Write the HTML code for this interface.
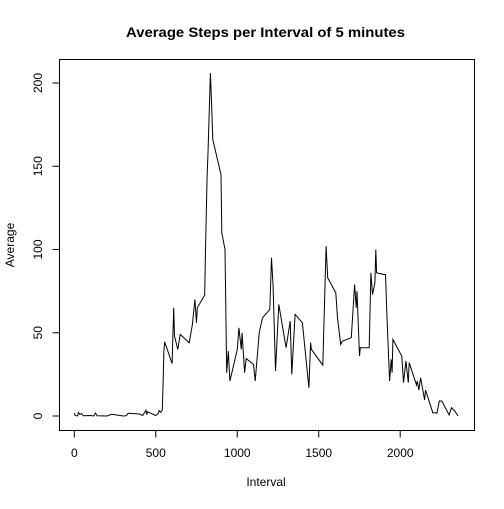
<!DOCTYPE html>
<html><head><meta charset="utf-8"><style>
body{margin:0;background:#fff}
text{font-family:"Liberation Sans",Arial,sans-serif;fill:#000}
</style></head><body>
<svg id="c" width="504" height="504" xmlns="http://www.w3.org/2000/svg">
<rect width="504" height="504" fill="#fff"/>
<text x="126" y="37" font-size="14" font-weight="bold" textLength="279" lengthAdjust="spacingAndGlyphs">Average Steps per Interval of 5 minutes</text>
<rect x="59.5" y="59.5" width="415" height="371" fill="none" stroke="#000"/>
<text x="266" y="486" font-size="12" text-anchor="middle">Interval</text>
<text transform="translate(14,245) rotate(-90)" font-size="12" text-anchor="middle">Average</text>
<g id="ax"></g>
<path id="ln" fill="none" stroke="#000" stroke-width="1"/>
</svg>
<script>
const intervals=[0,5,10,20,25,35,45,55,100,110,120,130,140,200,230,300,320,330,400,420,430,440,445,450,500,515,520,530,540,545,550,555,600,610,615,635,650,705,725,740,750,755,800,805,815,820,825,835,840,850,900,905,925,935,945,955,1000,1010,1025,1030,1045,1055,1100,1110,1130,1135,1155,1155,1200,1210,1220,1235,1255,1300,1325,1335,1355,1400,1420,1440,1450,1455,1525,1530,1545,1555,1605,1615,1635,1645,1700,1720,1730,1735,1750,1755,1810,1820,1830,1845,1850,1855,1900,1910,1920,1935,1945,1950,1955,2010,2020,2035,2050,2055,2100,2105,2115,2125,2150,2155,2200,2215,2225,2240,2255,2300,2315,2335,2355];
const values=[1.7,0.3,0.1,0.1,2.1,0.9,1.5,0.1,0.3,0.2,0,1.8,0.2,0,1,0,0.2,1.6,1.2,0.3,2,3.5,0.8,2.5,0.3,1.5,3.2,2.2,3.6,20,39,44.5,31.5,65,48,40,49,44,55,70,56,65,72.6,100,144,156,172,206,194,166,145,110,100,26,39,21,40,53,40,50,26,34.5,31,21,44,50,59,59,64,95,78,27,67,41,57,25,61,56,36,17,44,40,30.6,48,102,83,74,59,43,45,47,79,65,75,36,41,41,86,73,80,100,86,85,85,56,21,34,26,46,36,20,33,20,32,18.6,21,15.6,23,9.6,15.6,2,2,1.6,9,9,0.6,5,3,0,5,0.2];
const xTicks=[0,500,1000,1500,2000];
const yTicks=[0,50,100,150,200];
const X=v=>74.3+v*0.16295, Y=v=>416-v*1.665;
const ns="http://www.w3.org/2000/svg", ax=document.getElementById('ax');
function mk(t,a){const e=document.createElementNS(ns,t);for(const k in a)e.setAttribute(k,a[k]);ax.appendChild(e);return e;}
mk('path',{d:`M${X(0)},430.5H${X(2000)}`,stroke:'#000',fill:'none'});
mk('path',{d:`M59.5,${Y(0)}V${Y(200)}`,stroke:'#000',fill:'none'});
xTicks.forEach(t=>{const x=X(t);
 const l=mk('path',{d:`M${x},430.5v7`,stroke:'#000'});
 
 
 const s=mk('text',{x:x,y:457,'font-size':12,'text-anchor':'middle'});s.textContent=t;
 
 });
yTicks.forEach(t=>{const y=Y(t);
 const l=mk('path',{d:`M59.5,${y}h-7`,stroke:'#000'});
 
 
 const s=mk('text',{transform:`translate(42,${y}) rotate(-90)`,'font-size':12,'text-anchor':'middle'});s.textContent=t;
 
 });
document.getElementById('ln').setAttribute('d',intervals.map((v,i)=>(i?'L':'M')+X(v).toFixed(1)+','+Y(values[i]).toFixed(1)).join(''));
</script>
</body></html>
